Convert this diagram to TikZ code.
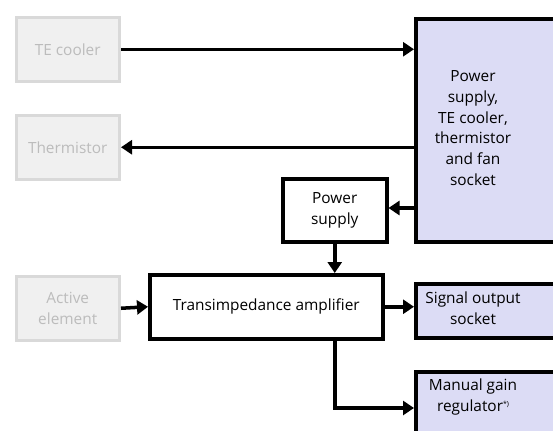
\documentclass[tikz,border=0pt]{standalone}
\usepackage{fontspec}
\setmainfont{Open Sans}
\usetikzlibrary{arrows.meta}
\definecolor{lav}{RGB}{220,220,245}
\definecolor{gfill}{RGB}{240,240,240}
\definecolor{gline}{RGB}{217,217,217}
\definecolor{gtext}{RGB}{188,188,188}
\tikzset{
  box/.style={draw=black,line width=3.5bp,inner sep=0pt,anchor=north west},
  grey/.style={draw=gline,fill=gfill,line width=3.5bp,inner sep=0pt,anchor=north west,text=gtext,align=center},
  lbl/.style={align=center,font=\fontsize{15.4bp}{20.7bp}\selectfont},
  con/.style={line width=3.5bp,-{Triangle[length=11bp,width=14bp]}},
}
\begin{document}
\begin{tikzpicture}[x=1bp,y=-1bp]
\useasboundingbox (0,0) rectangle (553,430);
\fill[white] (0,0) rectangle (553,430);
\clip (0,0) rectangle (553,430);
% grey boxes
\node[grey,lbl,minimum width=103bp,minimum height=64bp] (te) at (14.5,15.5) {TE cooler};
\node[grey,lbl,minimum width=103bp,minimum height=64bp] (th) at (14.5,113.5) {Thermistor};
\node[grey,lbl,minimum width=103bp,minimum height=64bp] (ae) at (14.5,274.5) {Active\\element};
% purple boxes
\node[box,fill=lav,minimum width=160bp,minimum height=223bp] (ps) at (414,17) {};
\node[lbl] (pst) at (473,128) {Power\\supply,\\TE cooler,\\thermistor\\and fan\\socket};
\node[box,fill=lav,minimum width=160bp,minimum height=54bp] (so) at (414,282) {};
\node[lbl] (sot) at (473,308.5) {Signal output\\socket};
\node[box,fill=lav,minimum width=160bp,minimum height=80bp] (mg) at (414,370) {};
\node[lbl] (mgt) at (473,397) {Manual gain\\regulator{\fontsize{7bp}{8bp}\selectfont\raisebox{5bp}{*)}}};
% white boxes
\node[box,fill=white,lbl,minimum width=104bp,minimum height=63bp] (pw) at (281,177) {Power\\supply};
\node[box,fill=white,lbl,minimum width=233bp,minimum height=64bp] (tia) at (148,273) {Transimpedance amplifier};
% connectors
\draw[con] (te.east) -- (te.east -| ps.west);
\draw[con] (th.east -| ps.west) -- (th.east);
\draw[con] (ps.west |- 0,208) -- (pw.east |- 0,208);
\draw[con] (pw.south) -- (tia.north -| pw.south);
\draw[con] (ae.east) -- (tia.west);
\draw[con] (tia.east) -- (tia.east -| so.west);
\coordinate (bend) at (pw.south |- 0,408);
\draw[con] (tia.south -| pw.south) -- (bend) -- (bend -| mg.west);
\end{tikzpicture}
\end{document}
